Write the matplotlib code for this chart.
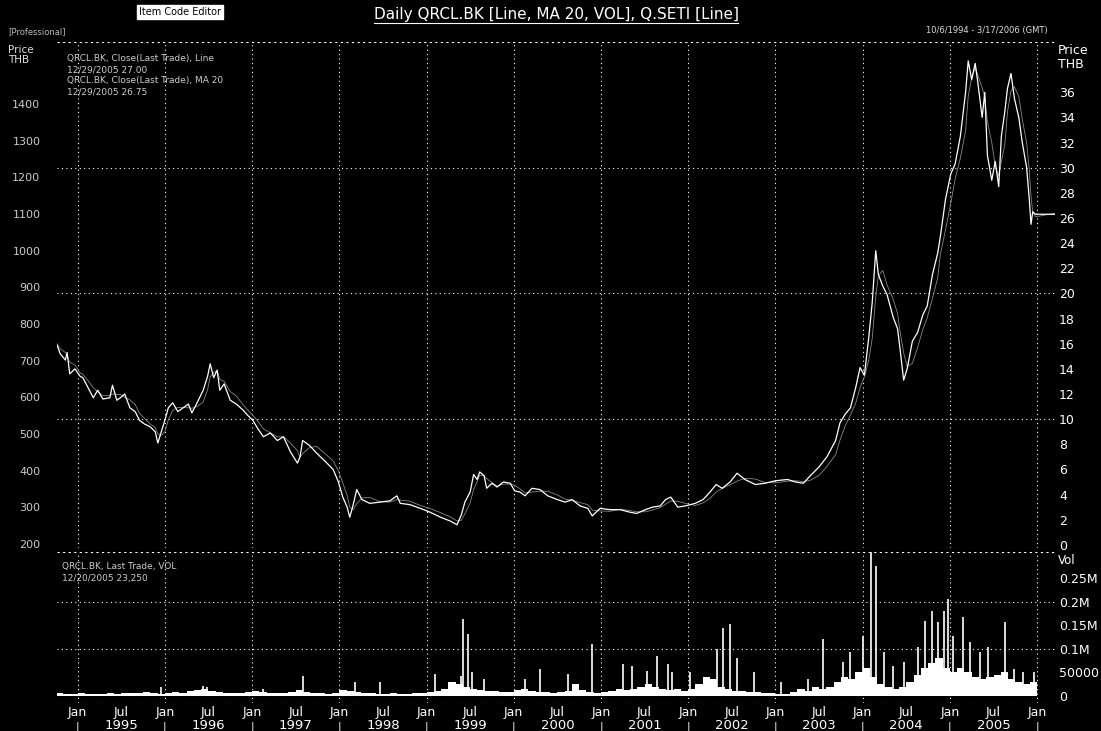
import numpy as np
import pandas as pd
import matplotlib.pyplot as plt

# QRCL.BK close (THB), x in decimal years
px_year = [1994.76, 1994.80, 1994.86, 1994.88, 1994.91, 1994.97, 1995.03, 1995.06, 1995.12, 1995.18,
           1995.23, 1995.29, 1995.37, 1995.40, 1995.45, 1995.49, 1995.54, 1995.60, 1995.66, 1995.71,
           1995.77, 1995.83, 1995.89, 1995.92, 1995.96, 1996.00, 1996.04, 1996.09, 1996.15, 1996.21,
           1996.27, 1996.31, 1996.37, 1996.44, 1996.49, 1996.52, 1996.56, 1996.60, 1996.63, 1996.68,
           1996.75, 1996.82, 1996.90, 1996.95, 1997.01, 1997.07, 1997.13, 1997.21, 1997.29, 1997.36,
           1997.44, 1997.52, 1997.55, 1997.58, 1997.66, 1997.74, 1997.83, 1997.93, 1997.99, 1998.04,
           1998.09, 1998.12, 1998.16, 1998.20, 1998.26, 1998.35, 1998.47, 1998.58, 1998.66, 1998.70,
           1998.81, 1998.93, 1999.04, 1999.16, 1999.27, 1999.35, 1999.40, 1999.44, 1999.50, 1999.54,
           1999.58, 1999.61, 1999.66, 1999.69, 1999.75, 1999.81, 1999.88, 1999.96, 2000.01, 2000.07,
           2000.13, 2000.21, 2000.30, 2000.39, 2000.50, 2000.59, 2000.67, 2000.76, 2000.85, 2000.90,
           2000.99, 2001.10, 2001.22, 2001.33, 2001.41, 2001.51, 2001.59, 2001.68, 2001.74, 2001.80,
           2001.88, 2001.97, 2002.08, 2002.17, 2002.25, 2002.32, 2002.39, 2002.48, 2002.56, 2002.65,
           2002.77, 2002.88, 2003.00, 2003.14, 2003.23, 2003.32, 2003.40, 2003.50, 2003.59, 2003.69,
           2003.74, 2003.80, 2003.86, 2003.92, 2003.97, 2004.02, 2004.07, 2004.11, 2004.15, 2004.18,
           2004.23, 2004.28, 2004.35, 2004.40, 2004.43, 2004.47, 2004.51, 2004.57, 2004.63, 2004.69,
           2004.74, 2004.80, 2004.86, 2004.89, 2004.95, 2005.01, 2005.06, 2005.12, 2005.18, 2005.21,
           2005.25, 2005.29, 2005.32, 2005.37, 2005.40, 2005.43, 2005.48, 2005.52, 2005.56, 2005.59,
           2005.63, 2005.66, 2005.70, 2005.74, 2005.79, 2005.83, 2005.88, 2005.91, 2005.93, 2005.95,
           2005.98, 2006.205]
px_close = [16.0, 15.2, 14.7, 15.3, 13.6, 14.0, 13.4, 13.3, 12.5, 11.7,
            12.3, 11.6, 11.7, 12.7, 11.5, 11.7, 12.0, 10.9, 10.6, 9.9,
            9.6, 9.4, 9.0, 8.1, 9.0, 9.9, 10.9, 11.3, 10.6, 10.9,
            11.2, 10.5, 11.3, 12.3, 13.4, 14.4, 13.3, 13.9, 12.3, 12.8,
            11.5, 11.2, 10.7, 10.3, 9.9, 9.2, 8.6, 8.9, 8.3, 8.6,
            7.4, 6.5, 7.0, 8.3, 7.9, 7.3, 6.7, 6.0, 5.0, 3.8,
            3.0, 2.2, 3.2, 4.4, 3.6, 3.3, 3.4, 3.5, 3.9, 3.3,
            3.2, 2.9, 2.6, 2.2, 1.9, 1.6, 2.4, 3.4, 4.2, 5.6,
            5.2, 5.8, 5.5, 4.5, 4.9, 4.6, 5.0, 4.9, 4.3, 4.2,
            3.9, 4.5, 4.4, 3.9, 3.6, 3.4, 3.6, 3.1, 2.9, 2.3,
            2.9, 2.8, 2.8, 2.6, 2.5, 2.8, 3.0, 3.1, 3.6, 3.8,
            3.0, 3.1, 3.3, 3.6, 4.2, 4.8, 4.5, 5.0, 5.7, 5.2,
            4.8, 4.9, 5.1, 5.2, 5.0, 4.9, 5.5, 6.2, 7.0, 8.3,
            9.7, 10.4, 10.9, 12.5, 14.1, 13.5, 16.5, 19.3, 23.4, 21.5,
            20.6, 19.9, 18.1, 17.2, 15.5, 13.1, 14.0, 16.2, 16.9, 18.3,
            19.0, 21.5, 23.2, 24.5, 27.5, 29.5, 30.3, 32.5, 36.0, 38.5,
            37.0, 38.3, 36.8, 34.0, 36.0, 31.0, 29.0, 30.5, 28.5, 32.5,
            34.5, 36.3, 37.5, 35.5, 34.0, 32.0, 30.0, 27.5, 25.5, 26.5,
            26.3, 26.3]

# monthly base volume (shares), Oct 1994 .. Dec 2005
vol_base = [6000, 5000, 5000,
            6000, 5000, 4000, 5000, 6000, 5000, 6000, 7000, 6000, 8000, 7000, 5000,
            6000, 8000, 7000, 10000, 12000, 15000, 10000, 8000, 7000, 6000, 6000, 8000,
            10000, 8000, 7000, 6000, 6000, 8000, 12000, 9000, 7000, 6000, 5000, 6000,
            12000, 10000, 8000, 7000, 6000, 5000, 5000, 6000, 5000, 5000, 6000, 7000,
            8000, 10000, 15000, 30000, 25000, 20000, 15000, 12000, 10000, 10000, 8000, 8000,
            12000, 15000, 10000, 8000, 8000, 7000, 8000, 10000, 25000, 12000, 8000, 7000,
            8000, 10000, 15000, 12000, 15000, 20000, 25000, 20000, 15000, 12000, 15000, 10000,
            15000, 25000, 40000, 35000, 20000, 15000, 10000, 10000, 8000, 8000, 6000, 6000,
            5000, 5000, 8000, 15000, 10000, 20000, 15000, 20000, 30000, 40000, 35000, 50000,
            60000, 40000, 25000, 20000, 15000, 20000, 30000, 45000, 60000, 70000, 80000, 60000,
            50000, 60000, 50000, 40000, 35000, 40000, 45000, 50000, 35000, 30000, 25000, 30000]

spike_year = [1995.96, 1996.44, 1996.48, 1997.12, 1997.58, 1998.18, 1998.47, 1999.10, 1999.33, 1999.39,
              1999.42, 1999.48, 1999.52, 1999.66, 2000.13, 2000.30, 2000.62, 2000.90, 2001.25, 2001.36,
              2001.53, 2001.64, 2001.77, 2001.82, 2002.02, 2002.33, 2002.40, 2002.48, 2002.56, 2002.75,
              2003.06, 2003.37, 2003.54, 2003.78, 2003.86, 2004.00, 2004.10, 2004.15, 2004.24, 2004.35,
              2004.47, 2004.63, 2004.72, 2004.80, 2004.86, 2004.93, 2004.98, 2005.04, 2005.15, 2005.23,
              2005.35, 2005.44, 2005.63, 2005.73, 2005.84, 2005.96]
spike_vol = [19000, 21000, 19000, 15000, 43000, 30000, 30000, 47000, 26000, 43000,
             164000, 132000, 51000, 36000, 36000, 57000, 47000, 110000, 68000, 64000,
             53000, 85000, 68000, 50000, 50000, 100000, 145000, 153000, 80000, 50000,
             30000, 36000, 120000, 72000, 94000, 128000, 310000, 277000, 94000, 64000,
             72000, 104000, 160000, 180000, 157000, 180000, 206000, 128000, 168000, 115000,
             94000, 104000, 157000, 57000, 50000, 50000]

left_ticks = [200, 300, 400, 500, 600, 700, 800, 900, 1000, 1100, 1200, 1300, 1400]
right_ticks = list(range(0, 37, 2))
vol_ticks = [0, 50000, 100000, 150000, 200000, 250000]
vol_labels = ['0', '50000', '0.1M', '0.15M', '0.2M', '0.25M']
years = list(range(1995, 2006))

W, H = 1101, 731
fig = plt.figure(figsize=(W / 100, H / 100), dpi=100, facecolor='black')
ax = fig.add_axes([57 / W, 1 - 548 / H, 998 / W, 506 / H], facecolor='black')
axr = ax.twinx()
axv = fig.add_axes([57 / W, 1 - 703 / H, 998 / W, 151 / H], facecolor='black')

x0, x1 = 1994.764, 2006.205
grid = dict(color='white', lw=0.8, ls=(0, (1, 3)))
dash = dict(color='white', lw=0.8, ls=(0, (2, 3)))

for a in (ax, axr, axv):
    a.set_xlim(x0, x1)
    for s in a.spines.values():
        s.set_visible(False)

# left axis (index scale)
ax.set_ylim(189, 1569)
ax.set_yticks(left_ticks)
ax.tick_params(axis='y', colors='#cccccc', labelsize=8, length=0, pad=12)
ax.set_xticks([])

# right axis (price)
axr.set_ylim(-0.25, 40)
axr.set_yticks(right_ticks)
axr.tick_params(axis='y', colors='white', labelsize=9, length=0, pad=3)
for lv in (10, 20, 30):
    axr.axhline(lv, **grid)
axr.axhline(40, **dash)
axr.axhline(-0.25, **dash)
for yr in years + [2006]:
    axr.axvline(yr, **grid)
axr.axvline(x1, **grid)

ma = pd.Series(px_close).rolling(3, min_periods=1).mean()
axr.plot(px_year, ma, color='#888888', lw=0.6)
axr.plot(px_year, px_close, color='white', lw=0.9)

# volume panel
vol_x = 1994.75 + (np.arange(len(vol_base)) + 0.5) / 12
axv.bar(vol_x, vol_base, width=1 / 12, color='white', linewidth=0)
axv.vlines(spike_year, 0, spike_vol, color='white', lw=1.2)
axv.set_ylim(-15000, 306000)
axv.yaxis.tick_right()
axv.set_yticks(vol_ticks)
axv.set_yticklabels(vol_labels)
axv.tick_params(axis='y', colors='white', labelsize=9, length=0, pad=3)
for lv in (100000, 200000):
    axv.axhline(lv, **grid)
axv.axhline(306000, **dash)
axv.axhline(-15000, **dash)
for yr in years + [2006]:
    axv.axvline(yr, **grid)
axv.axvline(x1, **grid)

# x axis labels
jan_jul = [y for yr in years for y in (yr, yr + 0.5)] + [2006]
axv.set_xticks(jan_jul)
axv.set_xticklabels(['Jan', 'Jul'] * len(years) + ['Jan'])
axv.tick_params(axis='x', colors='white', labelsize=9, length=0, pad=2)
tr = axv.get_xaxis_transform()
for yr in years:
    axv.text(yr + 0.5, -0.15, str(yr), color='white', fontsize=9.5, ha='center', va='center', transform=tr)
for yr in years + [2006]:
    axv.text(yr, -0.155, '|', color='white', fontsize=8, ha='center', va='center', transform=tr)

# header texts
fig.text(556 / W, 1 - 14 / H, 'Daily QRCL.BK [Line, MA 20, VOL], Q.SETI [Line]', color='white',
         fontsize=11, ha='center', va='center')
fig.add_artist(plt.Line2D([374 / W, 738 / W], [1 - 23 / H, 1 - 23 / H], color='white', lw=0.8))
fig.text(180 / W, 1 - 12 / H, 'Item Code Editor', color='black', fontsize=7, ha='center', va='center',
         bbox=dict(facecolor='white', edgecolor='white', pad=1.5))
fig.text(8 / W, 1 - 32 / H, '[Professional]', color='#bbbbbb', fontsize=6, va='center')
fig.text(1048 / W, 1 - 30 / H, '10/6/1994 - 3/17/2006 (GMT)', color='#dddddd', fontsize=6,
         ha='right', va='center')
fig.text(8 / W, 1 - 55 / H, 'Price\nTHB', color='#dddddd', fontsize=7.5, va='center', linespacing=1.1)
fig.text(1058 / W, 1 - 57 / H, 'Price\nTHB', color='white', fontsize=9, va='center', linespacing=1.1)
fig.text(1058 / W, 1 - 560 / H, 'Vol', color='white', fontsize=8.5, va='center')

leg = ['QRCL.BK, Close(Last Trade), Line', '12/29/2005 27.00',
       'QRCL.BK, Close(Last Trade), MA 20', '12/29/2005 26.75']
for i, t in enumerate(leg):
    fig.text(67 / W, 1 - (59 + 11 * i) / H, t, color='#cccccc', fontsize=6.5, va='center')
for i, t in enumerate(['QRCL.BK, Last Trade, VOL', '12/20/2005 23,250']):
    fig.text(62 / W, 1 - (566 + 12 * i) / H, t, color='#cccccc', fontsize=6.5, va='center')

fig.savefig('out.png', dpi=100, facecolor='black')
